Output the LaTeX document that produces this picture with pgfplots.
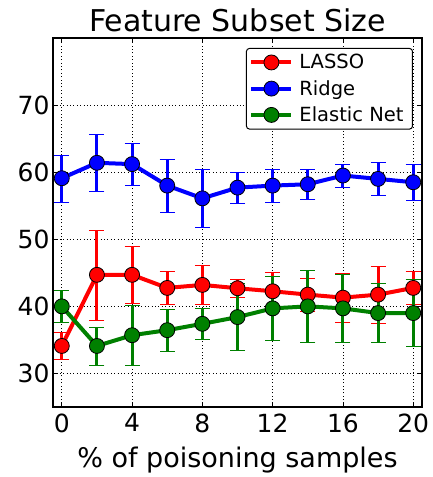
\documentclass[border=0pt]{standalone}
\usepackage{fontspec}
\setmainfont{DejaVu Sans}
\usepackage{pgfplots}
\pgfplotsset{compat=1.18}
\definecolor{mgreen}{rgb}{0,0.5,0}
\begin{document}
\begin{tikzpicture}[x=1pt,y=1pt]
\useasboundingbox (-53,-70) rectangle (380,407);
\begin{axis}[
  at={(0,0)}, anchor=south west, scale only axis,
  width=369pt, height=369pt,
  xmin=-0.5, xmax=20.5, ymin=25, ymax=80,
  xtick={0,4,...,20}, ytick={30,40,50,60,70},
  grid=major, grid style={black, line width=0.8pt, dash pattern=on 1pt off 2.4pt},
  tick align=inside, major tick length=5pt,
  tick style={black, line width=0.8pt},
  axis line style={line width=1.2pt},
  /pgf/number format/assume math mode=true,
  ticklabel style={font=\fontsize{25}{25}\selectfont},
  xticklabel style={yshift=-3pt},
  title={Feature Subset Size},
  title style={font=\fontsize{30}{30}\selectfont, yshift=-3pt},
  xlabel={\% of poisoning samples},
  xlabel style={font=\fontsize{27}{27}\selectfont, yshift=-8pt},
  legend style={at={(0.9756,0.973)}, anchor=north east, font=\fontsize{19.5}{19.5}\selectfont,
    draw=black, line width=1pt, rounded corners=3pt, inner xsep=3pt, inner ysep=4pt,
    row sep=6pt, nodes={inner xsep=6pt}},
  legend cell align=left,
  legend image code/.code={\draw[mark repeat=2,mark phase=2] plot coordinates {(0pt,0pt) (20pt,0pt) (40pt,0pt)};},
  every axis plot/.append style={line width=4pt, mark=*, mark size=7.5pt},
  error bars/y dir=both, error bars/y explicit,
  error bars/error mark=|,
  error bars/error bar style={line width=3pt},
  error bars/error mark options={line width=2pt, mark size=4.5pt},
]
\addplot[color=red, mark options={fill=red, draw=black, line width=0.8pt},
  error bars/error bar style={red}, error bars/error mark options={red}]
 table[x=x, y=y, y error=e] {
x y e
0 34.1 2.0
2 44.7 6.7
4 44.7 4.3
6 42.75 2.5
8 43.2 2.9
10 42.7 1.4
12 42.25 2.8
14 41.75 2.4
16 41.3 3.6
18 41.75 4.3
20 42.75 2.5
};
\addlegendentry{LASSO}
\addplot[color=blue, mark options={fill=blue, draw=black, line width=0.8pt},
  error bars/error bar style={blue}, error bars/error mark options={blue}]
 table[x=x, y=y, y error=e] {
x y e
0 59.1 3.5
2 61.4 4.2
4 61.2 3.1
6 58.0 4.0
8 56.1 4.3
10 57.7 2.3
12 58.0 2.5
14 58.2 2.2
16 59.5 1.7
18 59.0 2.5
20 58.5 2.7
};
\addlegendentry{Ridge}
\addplot[color=mgreen, mark options={fill=mgreen, draw=black, line width=0.8pt},
  error bars/error bar style={mgreen}, error bars/error mark options={mgreen}]
 table[x=x, y=y, y error=e] {
x y e
0 40.0 2.4
2 34.1 2.8
4 35.7 4.4
6 36.45 3.2
8 37.4 2.3
10 38.4 5.0
12 39.7 4.8
14 40.0 5.4
16 39.7 5.1
18 39.0 4.4
20 39.0 5.0
};
\addlegendentry{Elastic Net}
\end{axis}
\end{tikzpicture}
\end{document}
